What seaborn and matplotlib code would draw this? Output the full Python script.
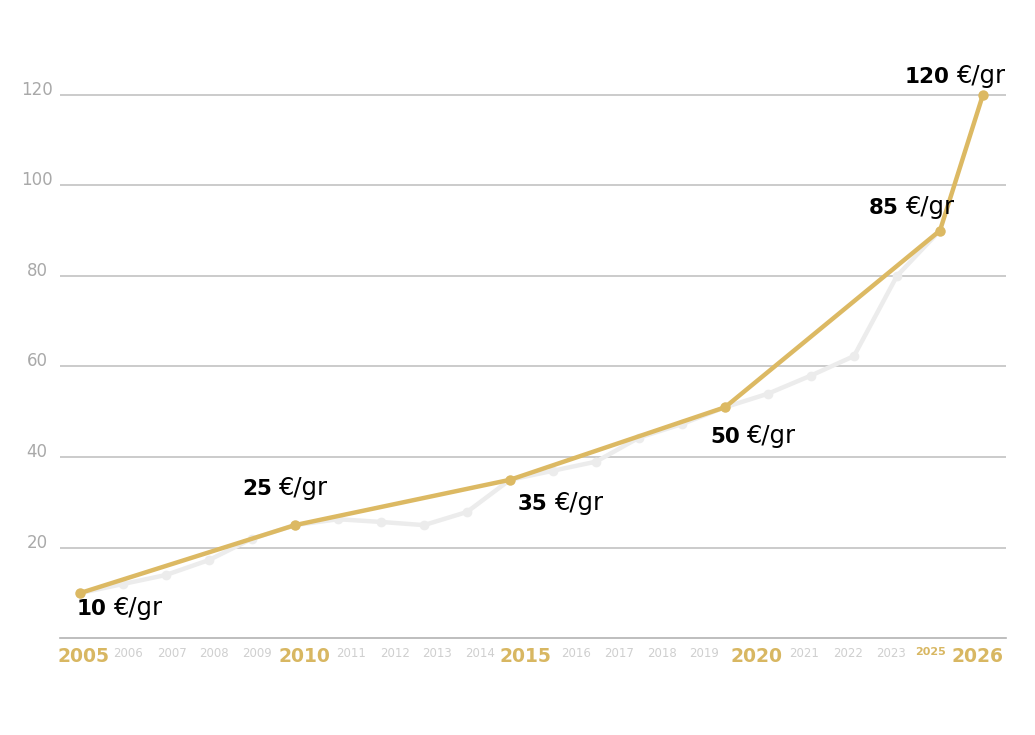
import matplotlib.pyplot as plt
import numpy as np
import pandas as pd
import seaborn as sns

# grey background series, one value per year
years = list(range(2005, 2026))
market_price = [10, 12, 14, 17.3, 22, 25, 26.3, 25.7, 25, 27.9, 35,
                37, 39, 44.3, 47.3, 51, 54, 58, 62.3, 80, 90]

# gold highlighted series
key_years = [2005, 2010, 2015, 2020, 2025, 2026]
key_prices = [10, 25, 35, 51, 90, 120]
key_labels = ["10", "25", "35", "50", "85", "120"]

tick_labels = ["2005", "2006", "2007", "2008", "2009", "2010", "2011", "2012",
               "2013", "2014", "2015", "2016", "2017", "2018", "2019", "2020",
               "2021", "2022", "2023", "2025", "2026"]
big_ticks = ["2005", "2010", "2015", "2020", "2026"]
gold_ticks = big_ticks + ["2025"]

y_ticks = [20, 40, 60, 80, 100, 120]

# layout only: where the tick labels sit, and label offsets in pixels
tick_pos = 2005 + np.array([0.07, 1.12, 2.14, 3.12, 4.12, 5.23, 6.30, 7.33, 8.30,
                            9.30, 10.35, 11.53, 12.53, 13.53, 14.51, 15.74, 16.84,
                            17.86, 18.86, 19.79, 20.88])
label_offsets = [(-3, -22), (-53, 30), (8, -30), (-15, -36), (-71, 17), (-78, 12)]

GOLD = "#dcb963"
GOLD_TXT = "#d8b762"
LIGHT = "#ececec"

sns.set_theme(style="white")
plt.rcParams["font.family"] = ["DejaVu Sans"]

fig = plt.figure(figsize=(10.35, 7.35), dpi=100)
ax = fig.add_axes([60 / 1035, 0.1314, 946 / 1035, 0.933 - 0.1314])

df_market = pd.DataFrame({"year": years, "price": market_price})
df_key = pd.DataFrame({"year": key_years, "price": key_prices})

sns.lineplot(data=df_market, x="year", y="price", color=LIGHT, linewidth=3.2,
             marker="o", markersize=7, markeredgewidth=0, ax=ax, zorder=2)
sns.lineplot(data=df_key, x="year", y="price", color=GOLD, linewidth=3.2,
             marker="o", markersize=7.5, markeredgewidth=0, ax=ax, zorder=3)

ax.set_xlim(2004.535, 2026.535)
ax.set_ylim(0, 130)
ax.set_xlabel("")
ax.set_ylabel("")

ax.set_yticks(y_ticks)
ax.set_yticklabels([str(v) for v in y_ticks])
ax.yaxis.grid(True, color="#c2c2c2", linewidth=1.2)
ax.xaxis.grid(False)
ax.tick_params(axis="y", length=0, pad=16.5, labelsize=12, labelcolor="#a9a9a9")
for lbl in ax.get_yticklabels():
    lbl.set_ha("center")
    lbl.set_va("baseline")

ax.set_xticks(tick_pos)
ax.set_xticklabels(tick_labels)
ax.tick_params(axis="x", length=0, pad=6)
for lbl in ax.get_xticklabels():
    t = lbl.get_text()
    if t in big_ticks:
        lbl.set_fontsize(13.5)
        lbl.set_fontweight("bold")
        lbl.set_color(GOLD_TXT)
    elif t in gold_ticks:
        lbl.set_fontsize(8)
        lbl.set_fontweight("bold")
        lbl.set_color(GOLD_TXT)
    else:
        lbl.set_fontsize(8.5)
        lbl.set_color("#cfcfcf")

for s in ["top", "right", "left"]:
    ax.spines[s].set_visible(False)
ax.spines["bottom"].set_color("#b3b3b3")
ax.spines["bottom"].set_linewidth(1.2)

# bold number first, then the unit on the same baseline right after it
fig.canvas.draw()
renderer = fig.canvas.get_renderer()
for yr, val, txt, (dx, dy) in zip(key_years, key_prices, key_labels, label_offsets):
    num = ax.annotate(txt, xy=(yr, val), xytext=(dx, dy), textcoords="offset pixels",
                      ha="left", va="baseline", fontsize=15.5, fontweight="bold",
                      color="black", zorder=5)
    w = num.get_window_extent(renderer).width
    ax.annotate("€/gr", xy=(yr, val), xytext=(dx + w + 6, dy),
                textcoords="offset pixels", ha="left", va="baseline",
                fontsize=17.5, color="black", zorder=5)

fig.savefig("out.png", dpi=100)
plt.close(fig)
